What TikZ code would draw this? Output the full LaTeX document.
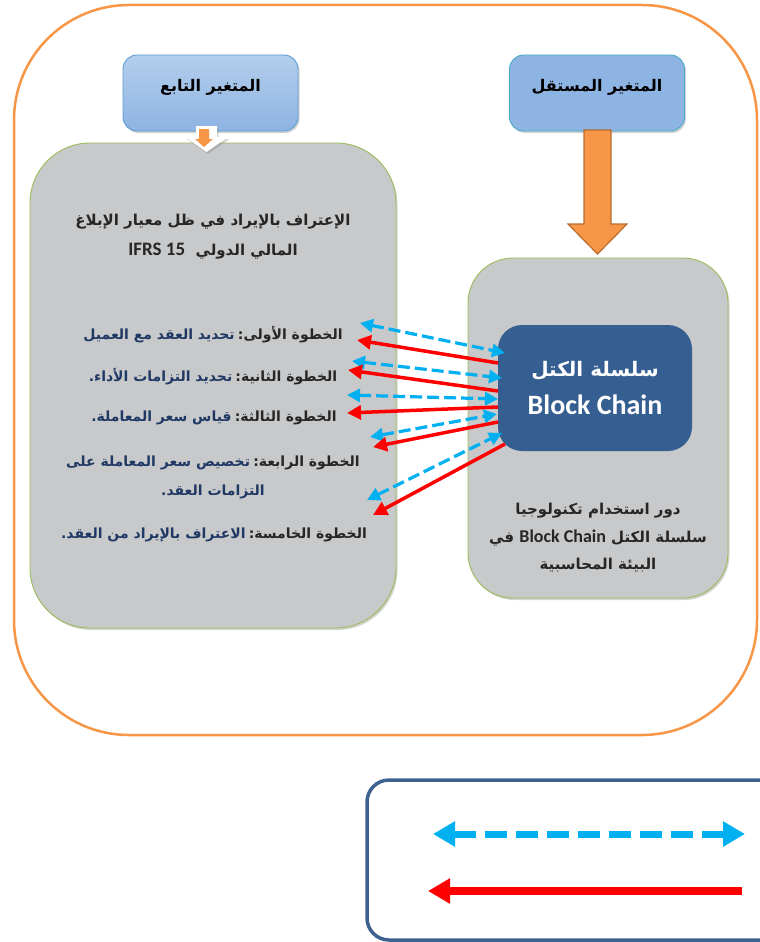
\documentclass[tikz,border=0pt]{standalone}
\usepackage{fontspec}
\setmainfont{Carlito}
\newfontfamily\arabicfont[Script=Arabic]{DejaVu Sans}
\TeXXeTstate=1
\usepackage{tikz}
\usetikzlibrary{arrows.meta,shadows,positioning}

\definecolor{frameorange}{HTML}{F79646}
\definecolor{arrowedge}{HTML}{B86B2F}
\definecolor{panelgray}{HTML}{C8C9CB}
\definecolor{panelgreen}{HTML}{9BBB59}
\definecolor{chainblue}{HTML}{355E91}
\definecolor{headtop}{HTML}{B4CEEC}
\definecolor{headbot}{HTML}{8EB4E3}
\definecolor{headedge}{HTML}{5B9BD5}
\definecolor{headteal}{HTML}{4BACC6}
\definecolor{stepblue}{HTML}{1F3864}
\definecolor{textdark}{HTML}{262626}
\definecolor{dashblue}{HTML}{00B0F0}
\definecolor{legendedge}{HTML}{3E6290}

\newcommand{\artext}[1]{{\arabicfont\bfseries\beginR #1\endR}}
\newcommand{\engtext}[1]{{\rmfamily\bfseries\beginL #1\endL}}

\tikzset{
  softshadow/.style={drop shadow={opacity=0.35,shadow xshift=1.5pt,shadow yshift=-2pt}},
  frame/.style={draw=frameorange,line width=2.5pt,rounded corners=115pt,
    minimum width=743pt,minimum height=730pt},
  panel/.style={draw=panelgreen,line width=0.9pt,fill=panelgray,softshadow},
  header/.style={rounded corners=14pt,line width=0.9pt,softshadow,
    minimum width=175pt,minimum height=76pt,text depth=16pt,
    font=\fontsize{16}{19}\selectfont,text=black},
  chainbox/.style={fill=chainblue,rounded corners=24pt,minimum width=194pt,
    minimum height=126pt,text=white,align=center},
  titletext/.style={align=center,text=textdark,font=\fontsize{15}{30}\selectfont},
  steptext/.style={align=center,text=textdark,font=\fontsize{14}{29}\selectfont},
  roletext/.style={align=center,text=textdark,font=\fontsize{15}{27.5}\selectfont},
  blockarrow/.style={fill=frameorange,draw=arrowedge,line width=1.2pt},
  bluedash/.style={draw=dashblue,line width=3.2pt,dash pattern=on 12pt off 5pt,
    {Triangle[length=13pt,width=13pt]}-{Triangle[length=13pt,width=13pt]}},
  redline/.style={draw=red,line width=3.5pt,-{Triangle[length=14pt,width=14pt]}},
  legendbox/.style={draw=legendedge,line width=3.5pt,rounded corners=22pt,
    minimum width=426pt,minimum height=160pt},
  legenddash/.style={draw=dashblue,line width=7pt,dash pattern=on 22pt off 9pt,
    {Triangle[length=22pt,width=24pt]}-{Triangle[length=22pt,width=24pt]}},
  legendred/.style={draw=red,line width=8pt,-{Triangle[length=22pt,width=24pt]}}
}

\begin{document}
\begin{tikzpicture}[x=1pt,y=-1pt]
\useasboundingbox (0,0) rectangle (760,942);

% outer frame
\node[frame] (frame) at (385.5,370) {};

% variable headers
\node[header,top color=headtop,bottom color=headbot,draw=headedge] (dephead) at (210.5,93) {\artext{المتغير التابع}};
\node[header,fill=headbot,draw=headteal] (indephead) at (597,93) {\artext{المتغير المستقل}};

% panels
\node[panel,minimum width=366pt,minimum height=485pt,rounded corners=60pt] (dep) at (213,385.5) {};
\node[panel,minimum width=260pt,minimum height=340pt,rounded corners=45pt] (indep) at (598,428) {};

% small arrow under the dependent header
\fill[white,softshadow] (196,126) -- (217,126) -- (217,137) -- (228,137) -- (206.5,152) -- (185,137) -- (196,137) -- cycle;
\fill[frameorange] (199,129) -- (209,129) -- (209,139) -- (213,139) -- (204,147) -- (195,139) -- (199,139) -- cycle;

% big arrow under the independent header
\filldraw[blockarrow] (584,130) -- (611,130) -- (611,224) -- (627,224) -- (597.5,254) -- (568,224) -- (584,224) -- cycle;

\node[chainbox] (chain) at (595,388) {{\fontsize{20}{24}\selectfont\artext{سلسلة الكتل}}\\[14pt]{\fontsize{28}{30}\selectfont\engtext{Block Chain}}};

\node[titletext] (title) at (213,237) {\artext{الإعتراف بالإيراد في ظل معيار الإبلاغ}\\\artext{المالي الدولي \ {\fontsize{19}{30}\selectfont\engtext{IFRS 15}}}};

\node[steptext] (step1) at (213,335) {{\color{stepblue}\artext{تحديد العقد مع العميل}}\ \artext{الخطوة الأولى:}};
\node[steptext] (step2) at (213,377) {{\color{stepblue}\artext{تحديد التزامات الأداء.}}\ \artext{الخطوة الثانية:}};
\node[steptext] (step3) at (214,418) {{\color{stepblue}\artext{قياس سعر المعاملة.}}\ \artext{الخطوة الثالثة:}};
\node[steptext] (step4) at (213,477.5) {{\color{stepblue}\artext{تخصيص سعر المعاملة على}}\ \artext{الخطوة الرابعة:}\\{\color{stepblue}\artext{التزامات العقد.}}};
\node[steptext] (step5) at (214,535) {{\color{stepblue}\artext{الاعتراف بالإيراد من العقد.}}\ \artext{الخطوة الخامسة:}};

\node[roletext] (role) at (598,538) {\artext{دور استخدام تكنولوجيا}\\\artext{سلسلة الكتل {\fontsize{18}{27.5}\selectfont\engtext{Block Chain}} في}\\\artext{البيئة المحاسبية}};

% links between the chain and the five steps
\coordinate (bl1) at (360,323); \coordinate (br1) at (505,353);
\coordinate (bl2) at (352,361); \coordinate (br2) at (502,378);
\coordinate (bl3) at (347,395); \coordinate (br3) at (498,399);
\coordinate (bl4) at (370,437); \coordinate (br4) at (497,414);
\coordinate (bl5) at (367,500); \coordinate (br5) at (502,433);
\coordinate (rr1) at (498,363); \coordinate (rl1) at (357,340);
\coordinate (rr2) at (498,391); \coordinate (rl2) at (348,370);
\coordinate (rr3) at (498,407); \coordinate (rl3) at (347,413);
\coordinate (rr4) at (498,422); \coordinate (rl4) at (373,447);
\coordinate (rr5) at (505,444); \coordinate (rl5) at (373,515);

\path (bl1) edge[bluedash] (br1)
      (bl2) edge[bluedash] (br2)
      (bl3) edge[bluedash] (br3)
      (bl4) edge[bluedash] (br4)
      (bl5) edge[bluedash] (br5);
\path (rr1) edge[redline] (rl1)
      (rr2) edge[redline] (rl2)
      (rr3) edge[redline] (rl3)
      (rr4) edge[redline] (rl4)
      (rr5) edge[redline] (rl5);

% legend
\node[legendbox] (legend) at (580,860) {};
\coordinate (kb1) at (433,834); \coordinate (kb2) at (745,834);
\coordinate (kr1) at (742,891); \coordinate (kr2) at (428,891);
\draw[legenddash] (kb1) -- (kb2);
\draw[legendred] (kr1) -- (kr2);
\end{tikzpicture}
\end{document}
